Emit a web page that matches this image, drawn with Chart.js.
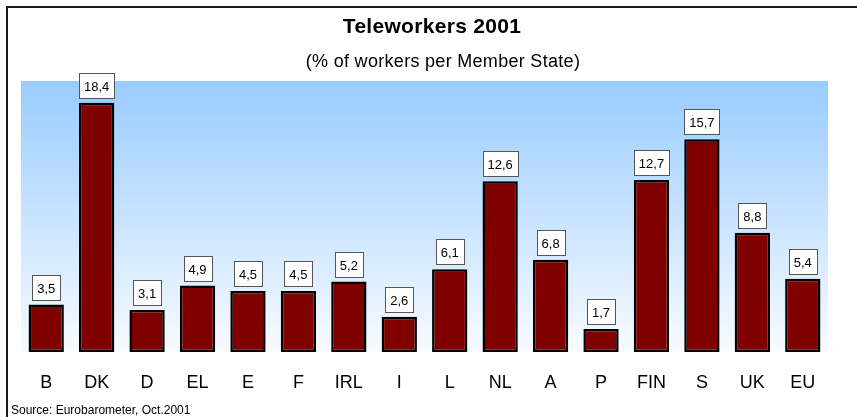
<!DOCTYPE html>
<html>
<head>
<meta charset="utf-8">
<script src="https://cdn.jsdelivr.net/npm/chart.js@4/dist/chart.umd.min.js"></script>
<style>
  html, body { margin: 0; padding: 0; background: #fff; }
  #wrap { width: 857px; height: 417px; position: relative; }
</style>
</head>
<body>
<div id="wrap"><canvas id="c"></canvas></div>
<script>
/* Teleworkers 2001 – % of workers per Member State */
const COUNTRIES = ['B','DK','D','EL','E','F','IRL','I','L','NL','A','P','FIN','S','UK','EU'];
const SHARE = [3.5, 18.4, 3.1, 4.9, 4.5, 4.5, 5.2, 2.6, 6.1, 12.6, 6.8, 1.7, 12.7, 15.7, 8.8, 5.4];
const Y_MIN = 0, Y_MAX = 20;
const TITLE = 'Teleworkers 2001';
const SUBTITLE = '(% of workers per Member State)';
const SOURCE = 'Source: Eurobarometer, Oct.2001';

const FONT = '"Liberation Sans", Arial, sans-serif';
const fmt = v => v.toFixed(1).replace('.', ',');

// sky gradient behind the bars + frame + texts
const decor = {
  id: 'decor',
  beforeDraw(chart) {
    const { ctx, chartArea: a } = chart;
    ctx.save();
    const g = ctx.createLinearGradient(0, a.top, 0, a.bottom);
    g.addColorStop(0, '#99ccff');
    g.addColorStop(1, '#f8fbff');
    ctx.fillStyle = g;
    ctx.fillRect(a.left, a.top, a.right - a.left, a.bottom - a.top);
    // frame (top + left only)
    ctx.strokeStyle = '#1a1a1a'; ctx.lineWidth = 2;
    ctx.beginPath(); ctx.moveTo(7, 417); ctx.lineTo(7, 7); ctx.lineTo(857, 7); ctx.stroke();
    // titles
    ctx.fillStyle = '#000'; ctx.textAlign = 'center'; ctx.textBaseline = 'alphabetic';
    ctx.font = 'bold 21px ' + FONT;
    ctx.letterSpacing = '0.3px';
    ctx.fillText(TITLE, 432, 33);
    ctx.font = '18px ' + FONT;
    ctx.fillText(SUBTITLE, 443, 67);
    ctx.letterSpacing = '0px';
    ctx.textAlign = 'left'; ctx.font = '12px ' + FONT;
    ctx.fillText(SOURCE, 11, 414);
    ctx.restore();
  },
  afterDatasetsDraw(chart) {
    const { ctx } = chart;
    const meta = chart.getDatasetMeta(0);
    ctx.save();
    ctx.font = '13px ' + FONT;
    ctx.textAlign = 'center'; ctx.textBaseline = 'middle';
    meta.data.forEach((bar, i) => {
      const txt = fmt(SHARE[i]);
      const w = Math.round(ctx.measureText(txt).width) + 10, h = 25;
      const x = Math.round(bar.x - w / 2) + 0.5, y = Math.round(bar.y - 5 - h) + 0.5;
      ctx.fillStyle = '#fff'; ctx.fillRect(x, y, w, h);
      ctx.strokeStyle = '#555'; ctx.lineWidth = 1; ctx.strokeRect(x, y, w, h);
      ctx.fillStyle = '#000';
      ctx.fillText(txt, bar.x, y + h / 2 + 1);
    });
    ctx.restore();
  }
};

new Chart(document.getElementById('c'), {
  type: 'bar',
  data: {
    labels: COUNTRIES,
    datasets: [{ data: SHARE, backgroundColor: '#800000', borderColor: '#000', borderWidth: 2.5,
      borderSkipped: false, categoryPercentage: 1, barPercentage: 0.7 }]
  },
  options: {
    responsive: true, maintainAspectRatio: false, animation: false,
    layout: { padding: { left: 21, right: 29, top: 81, bottom: 0 } },
    plugins: { legend: { display: false }, tooltip: { enabled: false } },
    scales: {
      x: {
        grid: { display: false }, border: { display: false },
        ticks: { color: '#000', font: { family: FONT, size: 18 }, padding: 12 },
        afterFit: s => { s.height = 65; }
      },
      y: { display: false, min: Y_MIN, max: Y_MAX }
    }
  },
  plugins: [decor]
});
</script>
</body>
</html>
